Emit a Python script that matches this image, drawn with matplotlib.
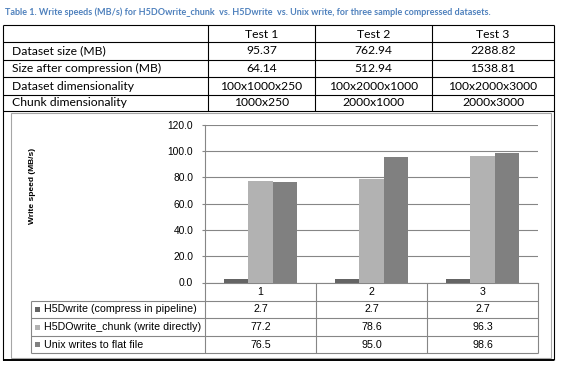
import numpy as np
import matplotlib
matplotlib.use("Agg")
import matplotlib.pyplot as plt
from matplotlib.patches import Rectangle

caption = ("Table 1. Write speeds (MB/s) for H5DOwrite_chunk  vs. H5Dwrite  vs. "
           "Unix write, for three sample compressed datasets.")

tests = ["Test 1", "Test 2", "Test 3"]
row_labels = ["Dataset size (MB)", "Size after compression (MB)",
              "Dataset dimensionality", "Chunk dimensionality"]
dataset_size = ["95.37", "762.94", "2288.82"]
compressed_size = ["64.14", "512.94", "1538.81"]
dataset_dims = ["100x1000x250", "100x2000x1000", "100x2000x3000"]
chunk_dims = ["1000x250", "2000x1000", "2000x3000"]

categories = ["1", "2", "3"]
series_names = ["H5Dwrite (compress in pipeline)",
                "H5DOwrite_chunk (write directly)",
                "Unix writes to flat file"]
h5dwrite = [2.7, 2.7, 2.7]
h5dowrite_chunk = [77.2, 78.6, 96.3]
unix_write = [76.5, 95.0, 98.6]
colors = ["#646464", "#b2b2b2", "#808080"]

W, H = 561, 366
fig = plt.figure(figsize=(W / 100, H / 100), dpi=100)
fig.patch.set_facecolor("white")

# background layer in pixel units for the tables and frames
bg = fig.add_axes([0, 0, 1, 1])
bg.set_xlim(0, W)
bg.set_ylim(H, 0)
bg.axis("off")


def hline(y, x0, x1, c="black", lw=0.8):
    bg.plot([x0, x1], [y, y], color=c, lw=lw, solid_capstyle="butt")


def vline(x, y0, y1, c="black", lw=0.8):
    bg.plot([x, x], [y0, y1], color=c, lw=lw, solid_capstyle="butt")


tfont = dict(family="Lato", fontsize=8.7, color="black")
bg.text(5, 12, caption, family="Lato", fontsize=6.5, fontweight="bold",
        color="#4f81bd", va="center")

# top table
rows_y = [25, 42, 60, 77, 95, 111]
cols_x = [3, 208, 315, 432, 554]
for y in rows_y:
    hline(y, 3, 554)
vline(3, 25, 360)
vline(554, 25, 360)
for x in cols_x[1:-1]:
    vline(x, 25, 111)
hline(360, 3, 554, lw=1.4)

centers = [(cols_x[i] + cols_x[i + 1]) / 2 for i in range(1, 4)]
for cx, t in zip(centers, tests):
    bg.text(cx, 34, t, ha="center", va="center", **tfont)
table_rows = [dataset_size, compressed_size, dataset_dims, chunk_dims]
for i, (lab, vals) in enumerate(zip(row_labels, table_rows)):
    yc = (rows_y[i + 1] + rows_y[i + 2]) / 2
    bg.text(12, yc, lab, ha="left", va="center", **tfont)
    for cx, v in zip(centers, vals):
        bg.text(cx, yc, v, ha="center", va="center", **tfont)

# chart frame
bg.add_patch(Rectangle((11, 113), 540, 245, fill=False, ec="#a6a6a6", lw=0.8))

# bar chart
px0, px1, py0, py1 = 205, 538, 124.6, 282.5
ax = fig.add_axes([px0 / W, 1 - py1 / H, (px1 - px0) / W, (py1 - py0) / H])
ax.patch.set_alpha(0)
x = np.arange(len(categories))
w = 0.222
for k, vals in enumerate([h5dwrite, h5dowrite_chunk, unix_write]):
    ax.bar(x + (k - 1) * w, vals, w, color=colors[k], zorder=3)
ax.set_xlim(-0.5, 2.5)
ax.set_ylim(0, 120)
ax.set_yticks(np.arange(0, 121, 20))
ax.set_yticklabels([f"{v:.1f}" for v in np.arange(0, 121, 20)],
                   family="Liberation Sans", fontsize=7.4)
ax.set_xticks([])
ax.tick_params(axis="y", length=2.5, width=0.8, color="#868686", pad=6)
ax.yaxis.grid(True, color="#868686", lw=0.8)
ax.set_axisbelow(True)
for s in ["top", "right"]:
    ax.spines[s].set_visible(False)
for s in ["left", "bottom"]:
    ax.spines[s].set_color("#868686")
    ax.spines[s].set_linewidth(0.8)

bg.text(33, 186, "Write speed (MB/s)", rotation=90, ha="center", va="center",
        family="Liberation Sans", fontsize=6, fontweight="bold")

# data table under the chart
gc = "#868686"
dcols = [205, 316, 427, 538]
drows = [301, 318, 336, 353]
for xx in dcols:
    vline(xx, 282.5, 353, c=gc)
vline(31, 301, 353, c=gc)
for yy in drows:
    hline(yy, 31, 538, c=gc)
dcent = [(dcols[i] + dcols[i + 1]) / 2 for i in range(3)]
cfont = dict(family="Liberation Sans", fontsize=7.7, color="black")
for cx, c in zip(dcent, categories):
    bg.text(cx, 292, c, ha="center", va="center", **cfont)
for k, (name, vals) in enumerate(zip(series_names,
                                     [h5dwrite, h5dowrite_chunk, unix_write])):
    yc = (drows[k] + drows[k + 1]) / 2
    bg.add_patch(Rectangle((35, yc - 2.5), 5, 5, color=colors[k], lw=0))
    bg.text(44, yc, name, ha="left", va="center", **cfont)
    for cx, v in zip(dcent, vals):
        bg.text(cx, yc, f"{v:.1f}", ha="center", va="center", **cfont)

fig.savefig("out.png", dpi=100)
